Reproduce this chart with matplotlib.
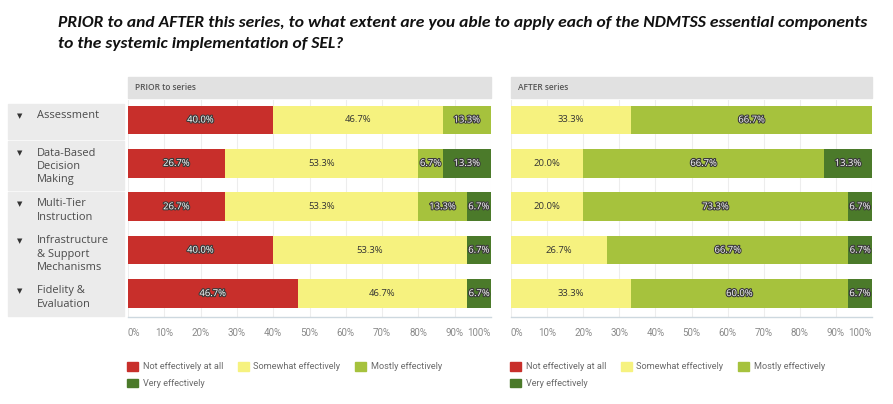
import numpy as np
import matplotlib
matplotlib.use("Agg")
import matplotlib.pyplot as plt
from matplotlib.patches import Rectangle, Patch
import matplotlib.patheffects as pe
from matplotlib import font_manager

# ---- data ----
categories = ["Assessment", "Data-Based\nDecision\nMaking", "Multi-Tier\nInstruction",
              "Infrastructure\n& Support\nMechanisms", "Fidelity &\nEvaluation"]
responses = ["Not effectively at all", "Somewhat effectively", "Mostly effectively", "Very effectively"]

prior_not      = [40.0, 26.7, 26.7, 40.0, 46.7]
prior_somewhat = [46.7, 53.3, 53.3, 53.3, 46.7]
prior_mostly   = [13.3, 6.7, 13.3, 0.0, 0.0]
prior_very     = [0.0, 13.3, 6.7, 6.7, 6.7]

after_not      = [0.0, 0.0, 0.0, 0.0, 0.0]
after_somewhat = [33.3, 20.0, 20.0, 26.7, 33.3]
after_mostly   = [66.7, 66.7, 73.3, 66.7, 60.0]
after_very     = [0.0, 13.3, 6.7, 6.7, 6.7]

ticks = [0, 10, 20, 30, 40, 50, 60, 70, 80, 90, 100]
tick_labels = [f"{t}%" for t in ticks]

title_lines = ["PRIOR to and AFTER this series, to what extent are you able to apply each of the NDMTSS essential components",
               "to the systemic implementation of SEL?"]
panel_titles = ["PRIOR to series", "AFTER series"]

colors = ["#c82f2b", "#f6f27f", "#a6c23d", "#4b7a2a"]
text_colors = ["white", "#333333", "white", "white"]


def pick(cands):
    for c in cands:
        try:
            font_manager.findfont(font_manager.FontProperties(family=c), fallback_to_default=False)
            return c
        except Exception:
            pass
    return "DejaVu Sans"


title_font = pick(["Carlito", "Liberation Sans Narrow", "Liberation Sans"])
ui_font = pick(["Open Sans", "Noto Sans", "DejaVu Sans"])
light_font = pick(["Liberation Sans Narrow", "Roboto", "Noto Sans"])

W, H = 893, 404
fig = plt.figure(figsize=(W / 100, H / 100), dpi=100)
fig.patch.set_facecolor("white")


def fx(x):
    return x / W


def fy(y):
    return 1 - y / H


# ---- title, fitted to the reference width ----
t1 = fig.text(fx(58), fy(27), title_lines[0], family=title_font, fontweight="bold",
              style="italic", fontsize=12, color="#111111", va="baseline")
t2 = fig.text(fx(58), fy(48), title_lines[1], family=title_font, fontweight="bold",
              style="italic", fontsize=12, color="#111111", va="baseline")
fig.canvas.draw()
w = t1.get_window_extent().width
size = 12 * 802 / w
t1.set_fontsize(size)
t2.set_fontsize(size)

# ---- row label boxes ----
row_boxes = [(104, 139), (141, 190), (192, 228), (229, 278), (279, 316)]
for (top, bot), cat in zip(row_boxes, categories):
    fig.patches.append(Rectangle((fx(8), fy(bot)), 116 / W, (bot - top) / H,
                                 transform=fig.transFigure, color="#ebebeb", zorder=0))
    fig.text(fx(20), fy(top + 12), "\u25BC", family="DejaVu Sans", fontsize=5,
             color="#333333", ha="center", va="center")
    fig.text(fx(37), fy(top + 6.5), cat, family=ui_font, fontsize=7.9, color="#4a4a4a",
             ha="left", va="top", linespacing=1.27)

# ---- panels ----
panels = [
    (128, 363, [prior_not, prior_somewhat, prior_mostly, prior_very], panel_titles[0]),
    (511, 361, [after_not, after_somewhat, after_mostly, after_very], panel_titles[1]),
]
y = np.arange(len(categories))

for x0, width, series, ptitle in panels:
    # header band
    fig.patches.append(Rectangle((fx(x0), fy(98)), width / W, 21 / H,
                                 transform=fig.transFigure, color="#e1e1e1", zorder=0))
    fig.text(fx(x0 + 7), fy(87.5), ptitle, family=ui_font, fontsize=6, fontweight="semibold",
             color="#555555", ha="left", va="center")

    ax = fig.add_axes([fx(x0), fy(317), width / W, 217 / H])
    left = np.zeros(len(categories))
    for vals, col, tc in zip(series, colors, text_colors):
        vals = np.array(vals)
        ax.barh(y, vals, left=left, color=col, height=0.66, zorder=3)
        for yi, (l, v) in enumerate(zip(left, vals)):
            if v > 0:
                txt = ax.text(l + v / 2, yi, f"{v:.1f}%", ha="center", va="center",
                              fontsize=6.8, family=ui_font, color=tc, zorder=4)
                if tc == "white":
                    txt.set_path_effects([pe.withStroke(linewidth=1.6, foreground="#3a3a3a")])
        left = left + vals

    ax.set_xlim(0, 100)
    ax.set_ylim(4.54, -0.46)
    ax.set_yticks([])
    ax.set_xticks(ticks, tick_labels)
    ax.tick_params(axis="x", length=0, pad=8, labelsize=7, labelcolor="#8a8a8a")
    for lab in ax.get_xticklabels():
        lab.set_family(light_font)
    labs = ax.get_xticklabels()
    labs[0].set_ha("left")
    labs[-1].set_ha("right")
    ax.grid(axis="x", color="#ededed", linewidth=0.8, zorder=0)
    for s in ["top", "left", "right"]:
        ax.spines[s].set_visible(False)
    ax.spines["bottom"].set_color("#cdd8df")
    ax.spines["bottom"].set_linewidth(1.0)

    handles = [Patch(color=c) for c in colors]
    order = [0, 3, 1, 2]
    leg = ax.legend([handles[i] for i in order], [responses[i] for i in order],
                    loc="upper left", bbox_to_anchor=(fx(x0 - 1), fy(362)),
                    bbox_transform=fig.transFigure, ncol=3, frameon=False,
                    prop={"family": light_font, "size": 6.6},
                    handlelength=1.2, handleheight=1.08, handletextpad=0.5,
                    columnspacing=1.6, labelspacing=0.78, borderpad=0, borderaxespad=0)
    for t in leg.get_texts():
        t.set_color("#6a6a6a")

fig.savefig("out.png", dpi=100)
